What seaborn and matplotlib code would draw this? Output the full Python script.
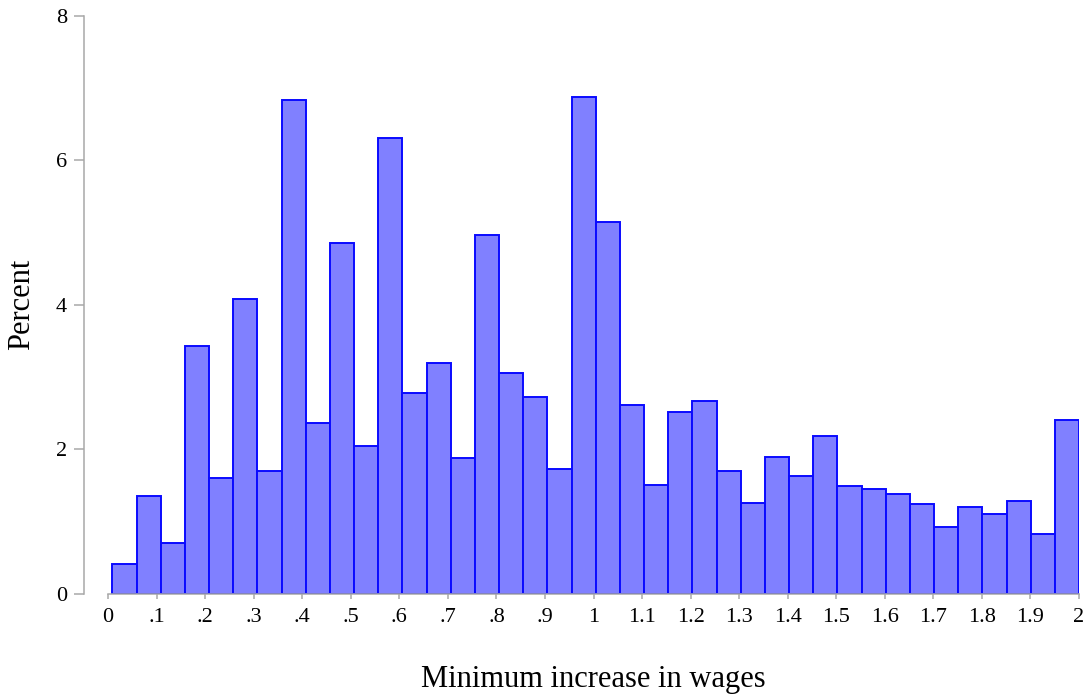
import numpy as np
import pandas as pd
import matplotlib
matplotlib.use('Agg')
import matplotlib.pyplot as plt
import seaborn as sns

percent = [0.42, 1.36, 0.71, 3.43, 1.61, 4.08, 1.70, 6.83, 2.37, 4.85,
           2.05, 6.31, 2.78, 3.20, 1.88, 4.97, 3.06, 2.73, 1.73, 6.87,
           5.15, 2.62, 1.51, 2.52, 2.67, 1.70, 1.26, 1.90, 1.63, 2.18,
           1.50, 1.45, 1.38, 1.24, 0.93, 1.21, 1.11, 1.28, 0.83, 2.40]
bin_lo, bin_hi = 0.009, 2.0
xticks = [0, .1, .2, .3, .4, .5, .6, .7, .8, .9, 1.0,
          1.1, 1.2, 1.3, 1.4, 1.5, 1.6, 1.7, 1.8, 1.9, 2.0]
xtick_labels = ['0', '.1', '.2', '.3', '.4', '.5', '.6', '.7', '.8', '.9', '1',
                '1.1', '1.2', '1.3', '1.4', '1.5', '1.6', '1.7', '1.8', '1.9', '2']
yticks = [0, 2, 4, 6, 8]

edges = np.linspace(bin_lo, bin_hi, len(percent) + 1)
df = pd.DataFrame({'wage_inc': (edges[:-1] + edges[1:]) / 2, 'pct': percent})

sns.set_style('white')
plt.rcParams['font.family'] = ['Liberation Serif', 'DejaVu Serif']
plt.rcParams['text.color'] = 'black'
plt.rcParams['axes.labelcolor'] = 'black'
plt.rcParams['xtick.labelcolor'] = 'black'
plt.rcParams['ytick.labelcolor'] = 'black'

fig = plt.figure(figsize=(10.88, 7), dpi=100)
ax = fig.add_axes([108 / 1088, 1 - 594 / 700, (1079 - 108) / 1088, (594 - 15.6) / 700])

sns.histplot(data=df, x='wage_inc', weights='pct', bins=len(percent),
             binrange=(bin_lo, bin_hi), stat='count',
             color='#8080ff', alpha=1, edgecolor='#0a0aff', linewidth=1.4, ax=ax)

ax.set_xlim(0, 2)
ax.set_ylim(0, 8)
ax.set_xticks(xticks)
ax.set_xticklabels(xtick_labels)
ax.set_yticks(yticks)

grey = '#a8a8a8'
for side in ['top', 'right']:
    ax.spines[side].set_visible(False)
ax.spines['left'].set_position(('outward', 17.3))
ax.spines['left'].set_bounds(0, 8)
ax.spines['bottom'].set_bounds(0, 2)
for side in ['left', 'bottom']:
    ax.spines[side].set_color(grey)
    ax.spines[side].set_linewidth(1.1)

ax.tick_params(axis='y', length=7.2, width=1.1, color=grey, labelcolor='black',
               pad=5, labelsize=16, left=True)
ax.tick_params(axis='x', length=3.8, width=1.1, color=grey, labelcolor='black',
               pad=6, labelsize=16, bottom=True)

ax.set_xlabel('Minimum increase in wages', fontsize=22, labelpad=28, color='black')
ax.set_ylabel('Percent', fontsize=22, labelpad=14, color='black')

fig.savefig('out.png', dpi=100)
